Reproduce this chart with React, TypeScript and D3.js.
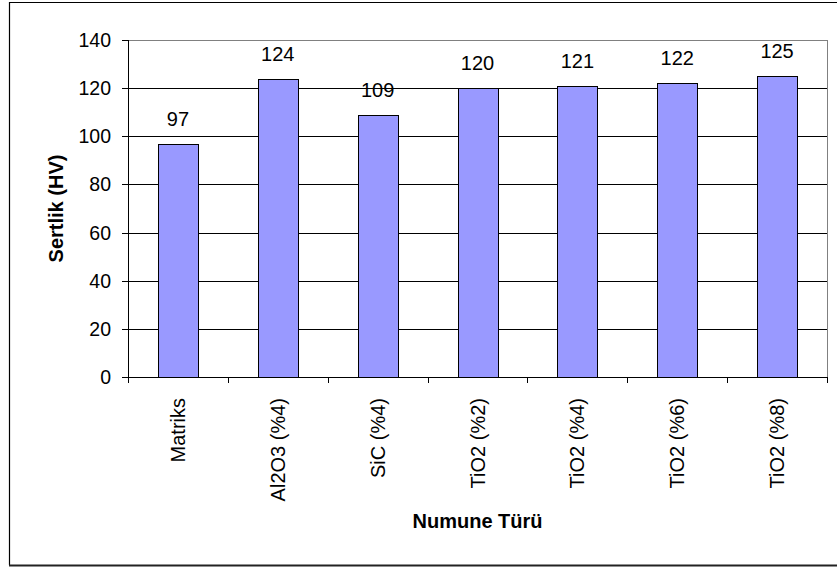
import React from "react";
import * as d3 from "d3";

const categories: string[] = ["Matriks", "Al2O3 (%4)", "SiC (%4)", "TiO2 (%2)", "TiO2 (%4)", "TiO2 (%6)", "TiO2 (%8)"];
const values: number[] = [97, 124, 109, 120, 121, 122, 125];
const yTicks: number[] = [0, 20, 40, 60, 80, 100, 120, 140];
const yTitle = "Sertlik (HV)";
const xTitle = "Numune Türü";

const W = 837;
const H = 569;
const left = 128;
const right = 827;
const top = 40;
const bottom = 377;
const FONT = "'Liberation Sans', Arial, Helvetica, sans-serif";

export default function App() {
  const y = d3.scaleLinear().domain([0, 140]).range([bottom, top]);
  const x = d3.scaleBand<string>().domain(categories).range([left, right]).paddingInner(0.6).paddingOuter(0.3);
  const step = x.step();
  const bw = x.bandwidth();

  return (
    <svg width={W} height={H} style={{ position: "absolute", left: 0, top: 0, background: "#fff" }}>
      {/* outer frame */}
      <path d={`M${W} 2.5 H9.5 V565`} fill="none" stroke="#000" strokeWidth={1.2} />
      <line x1={9} x2={W} y1={565.5} y2={565.5} stroke="#222" strokeWidth={2} />

      {/* gridlines */}
      {yTicks.filter((t) => t > 0 && t < 140).map((t) => (
        <line key={"g" + t} x1={left} x2={right} y1={Math.round(y(t)) + 0.5} y2={Math.round(y(t)) + 0.5} stroke="#000" strokeWidth={1} />
      ))}
      {/* plot border top/right */}
      <line x1={left} x2={right} y1={top + 0.5} y2={top + 0.5} stroke="#808080" strokeWidth={1} />
      <line x1={right + 0.5} x2={right + 0.5} y1={top} y2={bottom} stroke="#808080" strokeWidth={1} />

      {/* bars */}
      {categories.map((c, i) => (
        <rect key={c} x={Math.round(x(c)!) + 0.5} y={Math.round(y(values[i])) + 0.5} width={Math.round(bw)} height={Math.round(bottom - y(values[i]))} fill="#9999FF" stroke="#000" strokeWidth={1} />
      ))}

      {/* axes */}
      <line x1={left + 0.5} x2={left + 0.5} y1={top} y2={bottom + 6} stroke="#000" strokeWidth={1} />
      <line x1={left - 6} x2={right + 1} y1={bottom + 0.5} y2={bottom + 0.5} stroke="#000" strokeWidth={1} />
      {yTicks.map((t) => (
        <line key={"t" + t} x1={left - 6} x2={left} y1={Math.round(y(t)) + 0.5} y2={Math.round(y(t)) + 0.5} stroke="#000" strokeWidth={1} />
      ))}
      {d3.range(categories.length + 1).map((i) => (
        <line key={"xt" + i} x1={Math.round(left + i * step) + 0.5} x2={Math.round(left + i * step) + 0.5} y1={bottom} y2={bottom + 6} stroke="#000" strokeWidth={1} />
      ))}

      {/* y tick labels */}
      {yTicks.map((t) => (
        <text key={"yl" + t} x={111} y={y(t) + 7} textAnchor="end" fontFamily={FONT} fontSize={19.5} fill="#000">{t}</text>
      ))}

      {/* value labels */}
      {categories.map((c, i) => (
        <text key={"v" + c} x={x(c)! + bw / 2} y={y(values[i]) - 18} textAnchor="middle" fontFamily={FONT} fontSize={20} fill="#000">{values[i]}</text>
      ))}

      {/* category labels */}
      {categories.map((c) => (
        <text key={"c" + c} transform={`translate(${x(c)! + bw / 2 + 7},398) rotate(-90)`} textAnchor="end" fontFamily={FONT} fontSize={20} fill="#000">{c}</text>
      ))}

      {/* titles */}
      <text transform={`translate(63,${(top + bottom) / 2}) rotate(-90)`} textAnchor="middle" fontFamily={FONT} fontSize={20} fontWeight="bold" fill="#000">{yTitle}</text>
      <text x={(left + right) / 2} y={528} textAnchor="middle" fontFamily={FONT} fontSize={20} fontWeight="bold" fill="#000">{xTitle}</text>
    </svg>
  );
}
